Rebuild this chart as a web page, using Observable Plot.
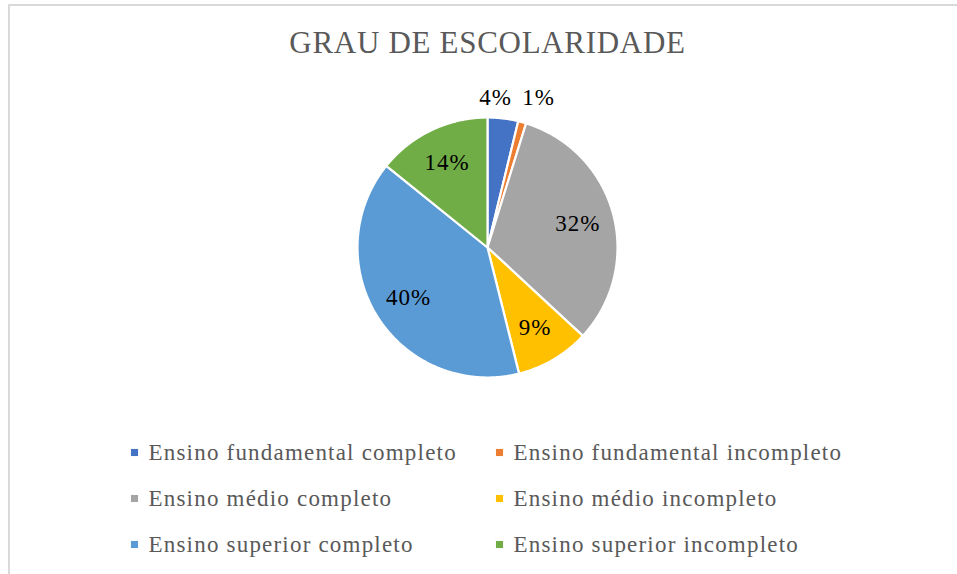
<!DOCTYPE html>
<html>
<head>
<meta charset="utf-8">
<script src="https://cdn.jsdelivr.net/npm/d3@7"></script>
<script src="https://cdn.jsdelivr.net/npm/@observablehq/plot@0.6"></script>
<style>
  html, body { margin: 0; padding: 0; background: #fff; }
  #wrap { position: relative; width: 957px; height: 574px; overflow: hidden; }
  #border { position: absolute; left: 8px; top: 4px; right: -10px; bottom: -10px;
            border-top: 2px solid #d9d9d9; border-left: 2px solid #d9d9d9; pointer-events: none; }
  .title text { letter-spacing: 0.7px; }
  .legend text { letter-spacing: 1.2px; }
  .labels text { letter-spacing: 1px; }
</style>
</head>
<body>
<div id="wrap"><div id="border"></div></div>
<script>
const title = "GRAU DE ESCOLARIDADE";
const categories = [
  "Ensino fundamental completo",
  "Ensino fundamental incompleto",
  "Ensino médio completo",
  "Ensino médio incompleto",
  "Ensino superior completo",
  "Ensino superior incompleto"
];
const values = [3.8, 1.0, 32.1, 9.2, 39.7, 14.2];
const colors = ["#4472C4", "#ED7D31", "#A5A5A5", "#FFC000", "#5B9BD5", "#70AD47"];

const W = 957, H = 574;
const cx = 487, cy = 247, R = 130;
const font = "'Liberation Serif', 'Times New Roman', serif";

const total = d3.sum(values);
const slices = [];
let acc = 0;
values.forEach((v, i) => {
  const a0 = acc / total * 2 * Math.PI;
  acc += v;
  const a1 = acc / total * 2 * Math.PI;
  slices.push({name: categories[i], value: v, color: colors[i], a0, a1, i});
});

// polygon outlines for each slice
const pts = [];
for (const s of slices) {
  pts.push({name: s.name, color: s.color, x: cx, y: cy});
  const n = Math.max(2, Math.ceil((s.a1 - s.a0) / (Math.PI / 360)));
  for (let k = 0; k <= n; k++) {
    const a = s.a0 + (s.a1 - s.a0) * k / n;
    pts.push({name: s.name, color: s.color, x: cx + R * Math.sin(a), y: cy - R * Math.cos(a)});
  }
}

// data labels: inside for large slices, outside (best fit) for small ones
const labels = slices.map(s => {
  const m = (s.a0 + s.a1) / 2;
  const outside = s.value / total < 0.05;
  const r = outside ? 1.18 * R : 0.72 * R;
  return {text: Math.round(s.value / total * 100) + "%", outside, x: cx + r * Math.sin(m), y: cy - r * Math.cos(m)};
});
// spread overlapping outside labels horizontally around their mean
const outs = labels.filter(d => d.outside);
if (outs.length > 1) {
  const gap = 43;
  const mx = d3.mean(outs, d => d.x), my = d3.mean(outs, d => d.y);
  outs.forEach((d, k) => { d.x = mx + (k - (outs.length - 1) / 2) * gap; d.y = my; });
}

// legend layout
const legend = categories.map((c, i) => ({
  name: c, color: colors[i],
  x: [148, 513][i % 2],
  y: 452 + Math.floor(i / 2) * 46
}));

const chart = Plot.plot({
  width: W, height: H,
  margin: 0,
  x: {domain: [0, W], range: [0, W], axis: null},
  y: {domain: [0, H], range: [0, H], axis: null},
  color: {type: "identity"},
  style: {background: "transparent", fontFamily: font},
  marks: [
    Plot.line(pts, {x: "x", y: "y", z: "name", fill: "color", stroke: "#fff", strokeWidth: 2.2, curve: "linear-closed", strokeLinejoin: "round"}),
    Plot.text(labels, {x: "x", y: "y", text: "text", fontSize: 23, fill: "#000", fontFamily: font, className: "labels"}),
    Plot.text([title], {x: () => cx, y: () => 43, text: d => d, fontSize: 31, fill: "#595959", fontFamily: font, className: "title"}),
    Plot.dot(legend, {x: d => d.x - 14, y: "y", symbol: "square", r: 4, fill: "color", stroke: null}),
    Plot.text(legend, {x: "x", y: "y", text: "name", textAnchor: "start", fontSize: 23, fill: "#595959", fontFamily: font, className: "legend"})
  ]
});
document.getElementById("wrap").prepend(chart);
chart.style.position = "absolute";
chart.style.left = "0px";
chart.style.top = "0px";
</script>
</body>
</html>
